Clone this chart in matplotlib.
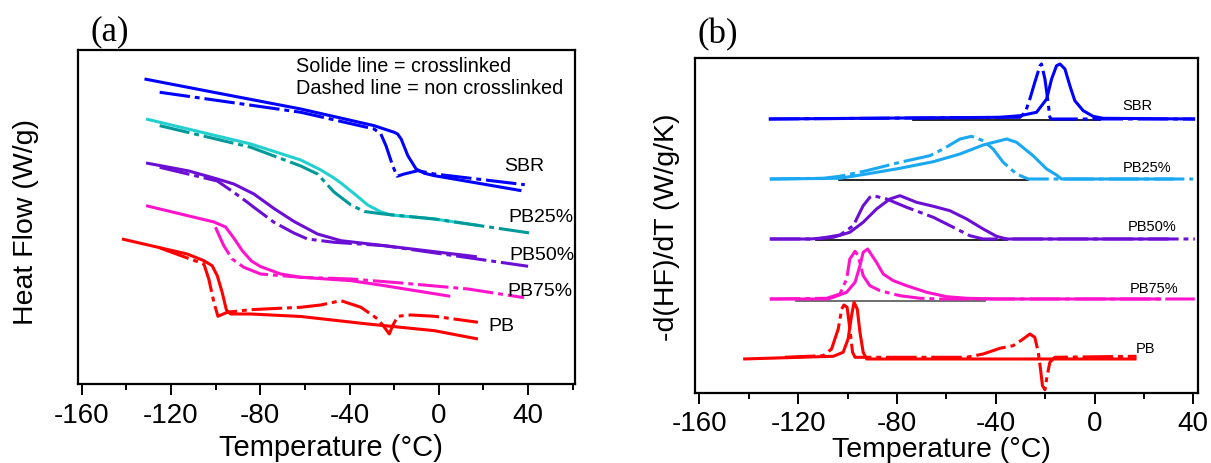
import matplotlib
matplotlib.use("Agg")
import matplotlib.pyplot as plt
from matplotlib.ticker import MultipleLocator

plt.rcParams['font.family'] = ['Liberation Sans', 'DejaVu Sans']
plt.rcParams['axes.unicode_minus'] = False

# ---------------- (a) heat flow, curves offset vertically (W/g, arbitrary offset) ----------------
sbr_a_T = [-131.9, -100, -61.9, -40, -29.0, -24, -20.0, -18.5, -16.9, -13.9, -10.2, -6.5, -2.0, 10, 37.0]
sbr_a_hf = [3.05, 2.913, 2.75, 2.639, 2.583, 2.546, 2.517, 2.50, 2.45, 2.283, 2.15, 2.107, 2.083, 2.037, 1.933]
sbr_a_nc_T = [-125.1, -61.9, -29.0, -26.0, -23.7, -20.7, -18.7, -15.5, -9.4, -2.0, 38.5]
sbr_a_nc_hf = [2.917, 2.717, 2.55, 2.50, 2.383, 2.183, 2.077, 2.10, 2.133, 2.10, 1.993]

pb25_a_T = [-131.2, -84.3, -61.9, -52.9, -47.0, -43.9, -36.4, -31.9, -25.9, -21.4, -2.0, 18]
pb25_a_hf = [2.65, 2.40, 2.24, 2.14, 2.06, 2.01, 1.875, 1.79, 1.72, 1.69, 1.65, 1.584]
pb25_a_nc_T = [-125.1, -84.3, -61.9, -54.4, -47.0, -39.4, -33.4, -25, -2, 40.7]
pb25_a_nc_hf = [2.583, 2.367, 2.18, 2.10, 1.92, 1.79, 1.725, 1.70, 1.65, 1.51]

pb50_a_T = [-131.2, -112, -99.3, -91.9, -82.9, -73.9, -64.9, -54.4, -43.9, -24.4, 13.0, 17]
pb50_a_hf = [2.21, 2.13, 2.05, 2.0, 1.90, 1.755, 1.625, 1.50, 1.433, 1.383, 1.283, 1.272]
pb50_a_nc_T = [-125.1, -99.3, -91.9, -85.8, -82.9, -73.9, -65, -58.9, -47, -24.4, 40]
pb50_a_nc_hf = [2.167, 2.03, 1.917, 1.817, 1.767, 1.617, 1.51, 1.45, 1.417, 1.383, 1.177]

pb75_a_T = [-131.2, -100.8, -95.6, -91.9, -88, -84, -80, -70.9, -61.9, -39.4, -24.4, 5.1]
pb75_a_hf = [1.783, 1.62, 1.57, 1.46, 1.33, 1.23, 1.175, 1.10, 1.067, 1.033, 0.983, 0.877]
pb75_a_nc_T = [-100.1, -96.4, -92.6, -87.4, -79.9, -61.9, -39.4, -16.9, 13, 38.2]
pb75_a_nc_hf = [1.567, 1.383, 1.25, 1.167, 1.10, 1.067, 1.05, 1.01, 0.95, 0.863]

pb_a_T = [-142, -112.8, -105.3, -101.6, -99.3, -97.1, -95.2, -93.3, -84.4, -61.9, -31.9, -2.0, 17.5]
pb_a_hf = [1.45, 1.30, 1.233, 1.183, 1.083, 0.917, 0.74, 0.70, 0.70, 0.675, 0.60, 0.533, 0.45]
pb_a_nc_T = [-125, -105.3, -103.1, -100.8, -99, -94.8, -84.4, -61.9, -52.9, -43.9, -34.9, -27.4,
             -24.4, -22.2, -20.7, -18.4, -12.5, -2, 17.5]
pb_a_nc_hf = [1.36, 1.20, 1.05, 0.817, 0.677, 0.717, 0.743, 0.767, 0.79, 0.833, 0.767, 0.65,
              0.567, 0.50, 0.583, 0.677, 0.69, 0.677, 0.617]

# ---------------- (b) derivative curves, offset vertically ----------------
sbr_b_T = [-131.9, -38.3, -30.2, -23.5, -19.4, -17.4, -15.4, -14.0, -12.0, -10.0, -8.0, -4.6, -0.6, 3.5, 40.7]
sbr_b_d = [2.74, 2.757, 2.773, 2.807, 2.94, 3.14, 3.273, 3.29, 3.24, 3.073, 2.923, 2.823, 2.767, 2.747, 2.74]
sbr_b_nc_T = [-131.9, -30.2, -28, -26.2, -24.2, -22.1, -21.5, -20.1, -19.0, -18.1, -17.6, 40.7]
sbr_b_nc_d = [2.74, 2.757, 2.81, 2.94, 3.107, 3.273, 3.29, 3.14, 2.94, 2.757, 2.74, 2.74]

pb25_b_T = [-131.5, -103.2, -92.3, -78.8, -65.3, -54.5, -45.1, -38.3, -35.6, -31.6, -24.9, -19.4, -15.4, -13.4, 32]
pb25_b_d = [2.14, 2.147, 2.19, 2.247, 2.313, 2.39, 2.48, 2.523, 2.54, 2.507, 2.373, 2.24, 2.18, 2.14, 2.14]
pb25_b_nc_T = [-131.5, -109.9, -103.2, -92.3, -78.8, -66.7, -61.3, -54.5, -49.8, -45.1, -41.1, -37.0, -31.6, -26.9, 39.9]
pb25_b_nc_d = [2.14, 2.147, 2.167, 2.223, 2.307, 2.373, 2.44, 2.54, 2.567, 2.523, 2.44, 2.307, 2.19, 2.14, 2.14]

pb50_b_T = [-131.5, -115.3, -105.8, -99.1, -93.7, -88.3, -82.9, -78.8, -72.1, -65.3, -58.6, -51.8, -45.1, -39.7, -35.6, 30]
pb50_b_d = [1.54, 1.54, 1.557, 1.607, 1.707, 1.84, 1.94, 1.973, 1.907, 1.867, 1.823, 1.74, 1.64, 1.567, 1.54, 1.54]
pb50_b_nc_T = [-131.5, -112.6, -103.1, -97.7, -93.7, -91.0, -89.6, -84.2, -76.1, -65.3, -57.2, -50.5, -45.1, 40.6]
pb50_b_nc_d = [1.54, 1.54, 1.58, 1.673, 1.873, 1.957, 1.973, 1.94, 1.857, 1.757, 1.657, 1.573, 1.54, 1.54]

pb75_b_T = [-131.5, -108, -105.8, -100.4, -97.0, -95.0, -93.7, -91.9, -88.3, -85.6, -81.5, -76.1, -68.0, -59.9, -51.8, -38.3, 27]
pb75_b_d = [0.94, 0.94, 0.957, 1.007, 1.107, 1.273, 1.407, 1.44, 1.307, 1.19, 1.123, 1.073, 1.007, 0.963, 0.947, 0.94, 0.94]
pb75_b_nc_T = [-131.5, -108.5, -103.1, -100.4, -99.1, -97.0, -95.7, -93.7, -91.0, -86.9, -78.8, -70.7, -62.6, 40.6]
pb75_b_nc_d = [0.94, 0.947, 0.99, 1.14, 1.34, 1.417, 1.373, 1.173, 1.073, 1.023, 0.973, 0.947, 0.94, 0.94]

pb_b_T = [-142.3, -105.8, -101.8, -99.8, -98.4, -97.4, -96.1, -95.0, -93.7, -92.3, 17.0]
pb_b_d = [0.34, 0.367, 0.407, 0.54, 0.773, 0.907, 0.84, 0.607, 0.407, 0.34, 0.34]
pb_b_nc_T = [-125.4, -109.9, -106.5, -103.8, -102.4, -101.5, -100.2, -99.1, -98.0, -97.0, -51.8, -45.1,
             -38.3, -33.0, -28.9, -26.2, -24.2, -22.8, -21.9, -21.1, -20.1, -19.2, -18.1, -16.1, 17.0]
pb_b_nc_d = [0.357, 0.373, 0.44, 0.64, 0.84, 0.88, 0.857, 0.64, 0.407, 0.357, 0.357, 0.39,
             0.447, 0.473, 0.54, 0.59, 0.557, 0.407, 0.24, 0.073, 0.033, 0.173, 0.307, 0.357, 0.367]

# integration baselines under the transitions in (b): (T start, T end, level)
base_T0 = [-73.4, -103.4, -112.6, -121.0]
base_T1 = [2.0, -26.9, -35.6, -44.4]
base_lvl = [2.733, 2.133, 1.533, 0.923]
base_col = ['black', 'black', 'black', '#555555']

sample_names = ['SBR', 'PB25%', 'PB50%', 'PB75%', 'PB']
label_a_T = [29.2, 31.0, 31.6, 30.7, 22.0]
label_a_y = [2.183, 1.677, 1.29, 0.933, 0.583]
label_b_T = [11.3, 11.3, 13.4, 14.3, 16.7]
label_b_y = [2.88, 2.257, 1.673, 1.047, 0.45]

BLUE = '#0000ff'
CYAN = '#22d0d0'
TEAL = '#009999'
SKY = '#1aa8f2'
PURPLE = '#6c0fd4'
MAGENTA = '#ff14cc'
RED = '#ff0000'

LW = 2.2
DASH = (0, (10, 1.6, 1.6, 1.6))

fig = plt.figure(figsize=(12.11, 4.64), dpi=100)
ax_a = fig.add_axes([0.0644, 0.1703, 0.4104, 0.7205])
ax_b = fig.add_axes([0.5739, 0.1509, 0.4154, 0.7213])


def solid(ax, T, y, c):
    ax.plot(T, y, color=c, lw=LW, solid_joinstyle='round', solid_capstyle='butt')


def dashed(ax, T, y, c):
    ax.plot(T, y, color=c, lw=LW, linestyle=DASH, dash_capstyle='butt', dash_joinstyle='round')


# panel (a)
solid(ax_a, sbr_a_T, sbr_a_hf, BLUE)
dashed(ax_a, sbr_a_nc_T, sbr_a_nc_hf, BLUE)
solid(ax_a, pb25_a_T, pb25_a_hf, CYAN)
dashed(ax_a, pb25_a_nc_T, pb25_a_nc_hf, TEAL)
solid(ax_a, pb50_a_T, pb50_a_hf, PURPLE)
dashed(ax_a, pb50_a_nc_T, pb50_a_nc_hf, PURPLE)
solid(ax_a, pb75_a_T, pb75_a_hf, MAGENTA)
dashed(ax_a, pb75_a_nc_T, pb75_a_nc_hf, MAGENTA)
solid(ax_a, pb_a_T, pb_a_hf, RED)
dashed(ax_a, pb_a_nc_T, pb_a_nc_hf, RED)

for name, t, y in zip(sample_names, label_a_T, label_a_y):
    ax_a.text(t, y, name, fontsize=14, ha='left', va='center')

ax_a.text(-64.0, 3.18, 'Solide line = crosslinked', fontsize=14.3, ha='left', va='center')
ax_a.text(-64.0, 2.967, 'Dashed line = non crosslinked', fontsize=14.3, ha='left', va='center')

ax_a.set_xlim(-161.7, 61.0)
ax_a.set_ylim(0, 3.343)

# panel (b)
for t0, t1, lvl, c in zip(base_T0, base_T1, base_lvl, base_col):
    ax_b.plot([t0, t1], [lvl, lvl], color=c, lw=1.2)

solid(ax_b, sbr_b_T, sbr_b_d, BLUE)
dashed(ax_b, sbr_b_nc_T, sbr_b_nc_d, BLUE)
solid(ax_b, pb25_b_T, pb25_b_d, SKY)
dashed(ax_b, pb25_b_nc_T, pb25_b_nc_d, SKY)
solid(ax_b, pb50_b_T, pb50_b_d, PURPLE)
dashed(ax_b, pb50_b_nc_T, pb50_b_nc_d, PURPLE)
solid(ax_b, pb75_b_T, pb75_b_d, MAGENTA)
dashed(ax_b, pb75_b_nc_T, pb75_b_nc_d, MAGENTA)
solid(ax_b, pb_b_T, pb_b_d, RED)
dashed(ax_b, pb_b_nc_T, pb_b_nc_d, RED)

for name, t, y in zip(sample_names, label_b_T, label_b_y):
    ax_b.text(t, y, name, fontsize=10.5, ha='left', va='center')

ax_b.set_xlim(-161.8, 41.9)
ax_b.set_ylim(0, 3.347)

# shared axis styling
for ax in (ax_a, ax_b):
    ax.set_xticks(range(-160, 41, 40))
    ax.xaxis.set_minor_locator(MultipleLocator(20))
    ax.tick_params(axis='x', which='major', direction='out', length=8, width=1.4,
                   labelsize=20, pad=5, top=False)
    ax.tick_params(axis='x', which='minor', direction='out', length=4.5, width=1.4, top=False)
    ax.tick_params(axis='y', which='both', left=False, right=False, labelleft=False)
    for sp in ax.spines.values():
        sp.set_linewidth(1.6)

ax_b.tick_params(axis='x', which='major', pad=4)

ax_a.set_xlabel('Temperature (°C)', fontsize=21)
ax_a.xaxis.set_label_coords(0.509, -0.1885)
ax_a.xaxis.label.set_verticalalignment('center')
ax_a.set_ylabel('Heat Flow (W/g)', fontsize=20.5)
ax_a.yaxis.set_label_coords(-0.1046, 0.4876)
ax_a.yaxis.label.set_verticalalignment('center')

ax_b.set_xlabel('Temperature (°C)', fontsize=20.5)
ax_b.xaxis.set_label_coords(0.489, -0.168)
ax_b.xaxis.label.set_verticalalignment('center')
ax_b.set_ylabel('-d(HF)/dT (W/g/K)', fontsize=20.5)
ax_b.yaxis.set_label_coords(-0.0557, 0.499)
ax_b.yaxis.label.set_verticalalignment('center')

fig.text(0.0908, 0.931, '(a)', fontsize=25, family='Liberation Serif', ha='center', va='center')
fig.text(0.593, 0.9246, '(b)', fontsize=25, family='Liberation Serif', ha='center', va='center')

fig.savefig('out.png', dpi=100)
